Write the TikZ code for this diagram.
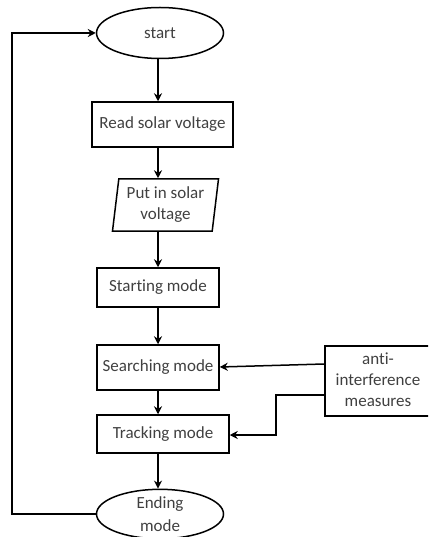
\documentclass[tikz,border=0pt]{standalone}
\usepackage{fontspec}
\setmainfont[Ligatures=NoCommon]{Carlito}
\usetikzlibrary{shapes.geometric,arrows.meta}
\begin{document}
\begin{tikzpicture}[x=1pt,y=-1pt,
  every node/.style={font=\fontsize{17}{21}\selectfont, text=black!75, align=center},
  term/.style={draw, line width=1.5pt, ellipse, minimum width=127pt, minimum height=51pt, inner sep=0pt},
  proc/.style={draw, line width=1.5pt, rectangle, inner sep=0pt},
  io/.style={draw, line width=1.5pt, trapezium, trapezium left angle=80, trapezium right angle=100, minimum width=106pt, minimum height=52pt, trapezium stretches body, inner sep=0pt},
  arr/.style={line width=1.5pt, -{Stealth[length=8pt,width=8pt]}}]
\useasboundingbox (0,0) rectangle (428,537);
\clip (0,0) rectangle (428,537);
\node[term] (start) at (160,33) {start};
\node[proc, minimum width=141pt, minimum height=45pt] (read) at (162.5,124.5) {Read solar voltage};
\node[io] (put) at (165.5,205) {Put in solar\\voltage};
\node[proc, minimum width=122pt, minimum height=39pt] (startm) at (158,287.5) {Starting mode};
\node[proc, minimum width=122pt, minimum height=45pt] (search) at (158,367.5) {Searching mode};
\node[proc, minimum width=132pt, minimum height=38pt] (track) at (163,434) {Tracking mode};
\node[term, minimum height=45pt] (endm) at (160,514) {Ending\\[2pt]mode};
\node[proc, minimum width=120pt, minimum height=70pt, anchor=north west] (anti) at (324,345) {};
\node[anchor=center] (antitext) at (378,380) {anti-\\interference\\measures};
\draw[arr] (start.south -| 158,0) -- (read.north -| 158,0);
\draw[arr] (read.south -| 158,0) -- (put.north -| 158,0);
\draw[arr] (put.south -| 158,0) -- (startm.north);
\draw[arr] (startm.south) -- (search.north);
\draw[arr] (search.south) -- (track.north -| 158,0);
\draw[arr] (track.south -| 158,0) -- (endm.north -| 158,0);
\draw[arr] (anti.west |- 0,364) -- (search.east |- 0,367);
\coordinate (bend1) at (276,395);
\coordinate (bend2) at (276,435);
\draw[arr] (anti.west |- bend1) -- (bend1) -- (bend2) -- (track.east |- bend2);
\coordinate (loop1) at (12,514);
\coordinate (loop2) at (12,33);
\draw[arr] (endm.west) -- (loop1) -- (loop2) -- (start.west);
\end{tikzpicture}
\end{document}
